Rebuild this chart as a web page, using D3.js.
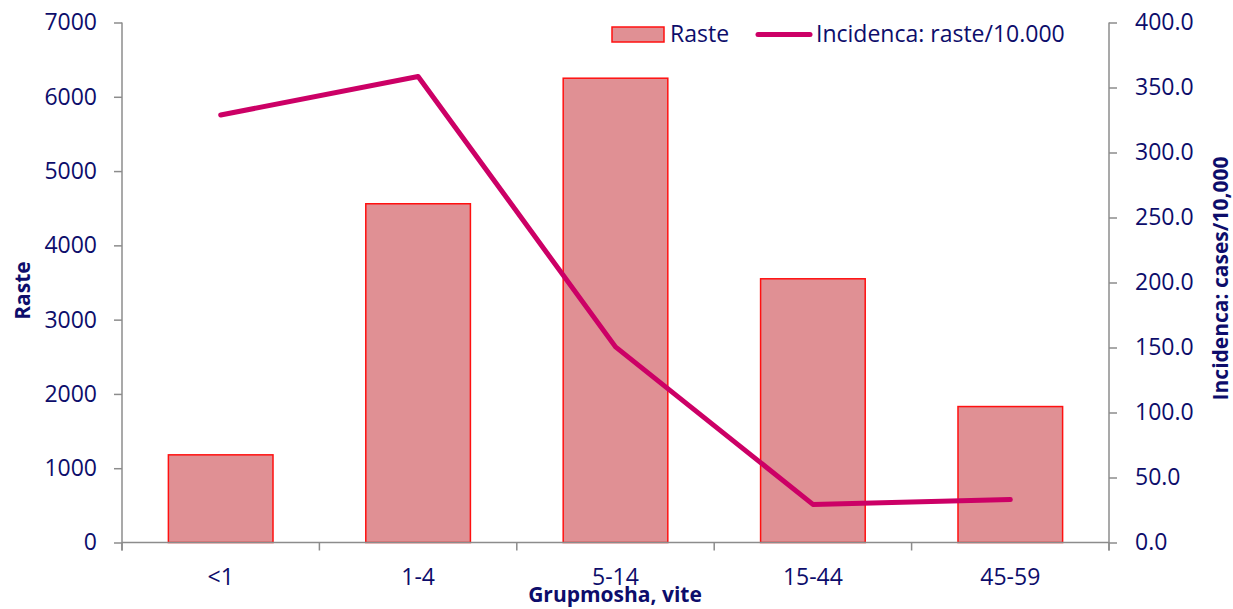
<!DOCTYPE html>
<html>
<head>
<meta charset="utf-8">
<script src="https://cdn.jsdelivr.net/npm/d3@7"></script>
<style>
  body { margin: 0; background: #fff; }
  text { font-family: "Open Sans", "DejaVu Sans", sans-serif; fill: #0d0d6b; }
</style>
</head>
<body>
<div id="chart"></div>
<script>
// age groups and the two series
const groups = ["<1", "1-4", "5-14", "15-44", "45-59"];
const cases = [1180, 4560, 6250, 3550, 1830];
const incidence = [328.8, 358.5, 150.5, 29.3, 33.0];
const leftTicks = [0, 1000, 2000, 3000, 4000, 5000, 6000, 7000];
const rightTicks = [0, 50, 100, 150, 200, 250, 300, 350, 400];

const W = 1233, H = 609;
const margin = {top: 22.5, right: 124, bottom: 66.5, left: 122};
const width = W - margin.left - margin.right;
const height = H - margin.top - margin.bottom;

const svg = d3.select("#chart").append("svg")
    .attr("width", W)
    .attr("height", H);
const g = svg.append("g")
    .attr("transform", "translate(" + margin.left + "," + margin.top + ")");

const x = d3.scaleBand().domain(groups).range([0, width]).paddingInner(0.47).paddingOuter(0.235);
const xBand = d3.scaleBand().domain(groups).range([0, width]);
const yL = d3.scaleLinear().domain([0, 7000]).range([height, 0]);
const yR = d3.scaleLinear().domain([0, 400]).range([height, 0]);

const axisColor = "#8c8c8c";
const tickFont = "23px";

// bars
g.selectAll(".bar")
    .data(groups)
    .enter()
    .append("rect")
    .attr("class", "bar")
    .attr("x", d => x(d))
    .attr("width", x.bandwidth())
    .attr("y", (d, i) => yL(cases[i]))
    .attr("height", (d, i) => height - yL(cases[i]))
    .style("fill", "#e09094")
    .style("stroke", "#ff1010")
    .style("stroke-width", 1.5);

// left axis
const leftAxis = g.append("g")
    .call(d3.axisLeft(yL).tickValues(leftTicks).tickSize(8).tickPadding(17).tickFormat(d3.format("d")));
// right axis
const rightAxis = g.append("g")
    .attr("transform", "translate(" + width + ",0)")
    .call(d3.axisRight(yR).tickValues(rightTicks).tickSize(8).tickPadding(18).tickFormat(d3.format(".1f")));
// bottom axis: ticks at band boundaries
const xAxis = g.append("g")
    .attr("transform", "translate(0," + height + ")");
xAxis.append("line")
    .attr("x1", 0).attr("x2", width)
    .attr("stroke", axisColor).attr("stroke-width", 1.5);
xAxis.selectAll(".xt")
    .data(groups.concat(["end"]))
    .enter()
    .append("line")
    .attr("x1", (d, i) => i < groups.length ? xBand(d) : width)
    .attr("x2", (d, i) => i < groups.length ? xBand(d) : width)
    .attr("y1", 0).attr("y2", 8)
    .attr("stroke", axisColor).attr("stroke-width", 1.5);
xAxis.selectAll(".xl")
    .data(groups)
    .enter()
    .append("text")
    .attr("x", d => xBand(d) + xBand.bandwidth() / 2)
    .attr("y", 42)
    .attr("text-anchor", "middle")
    .style("font-size", tickFont)
    .text(d => d);

[leftAxis, rightAxis].forEach(a => {
    a.select(".domain").attr("stroke", axisColor).attr("stroke-width", 1.5);
    a.selectAll(".tick line").attr("stroke", axisColor).attr("stroke-width", 1.5);
    a.selectAll(".tick text").style("font-size", tickFont).style("fill", "#0d0d6b");
});
leftAxis.select(".domain").attr("d", "M0,0V" + (height + 8));
rightAxis.select(".domain").attr("d", "M0,0V" + (height + 8));

// incidence line
const line = d3.line()
    .x((d, i) => xBand(groups[i]) + xBand.bandwidth() / 2)
    .y(d => yR(d));
g.append("path")
    .datum(incidence)
    .attr("d", line)
    .style("fill", "none")
    .style("stroke", "#cc0066")
    .style("stroke-width", 5)
    .style("stroke-linecap", "round")
    .style("stroke-linejoin", "round");

// axis titles
svg.append("text")
    .attr("transform", "translate(30," + (margin.top + height / 2 + 8) + ") rotate(-90)")
    .attr("text-anchor", "middle")
    .style("font-size", "21px").style("font-weight", "bold")
    .text("Raste");
svg.append("text")
    .attr("transform", "translate(1228," + (margin.top + height / 2 - 4) + ") rotate(-90)")
    .attr("text-anchor", "middle")
    .style("font-size", "21px").style("font-weight", "bold")
    .text("Incidenca: cases/10,000");
svg.append("text")
    .attr("x", 615)
    .attr("y", 602)
    .attr("text-anchor", "middle")
    .style("font-size", "21px").style("font-weight", "bold")
    .text("Grupmosha, vite");

// legend
const legend = svg.append("g");
legend.append("rect")
    .attr("x", 612).attr("y", 27).attr("width", 52).attr("height", 15)
    .style("fill", "#e09094").style("stroke", "#ff1010").style("stroke-width", 1.5);
legend.append("text")
    .attr("x", 670).attr("y", 42)
    .style("font-size", tickFont)
    .text("Raste");
legend.append("line")
    .attr("x1", 758).attr("x2", 810).attr("y1", 34.5).attr("y2", 34.5)
    .style("stroke", "#cc0066").style("stroke-width", 5).style("stroke-linecap", "round");
legend.append("text")
    .attr("x", 816).attr("y", 42)
    .style("font-size", tickFont)
    .text("Incidenca: raste/10.000");
</script>
</body>
</html>
